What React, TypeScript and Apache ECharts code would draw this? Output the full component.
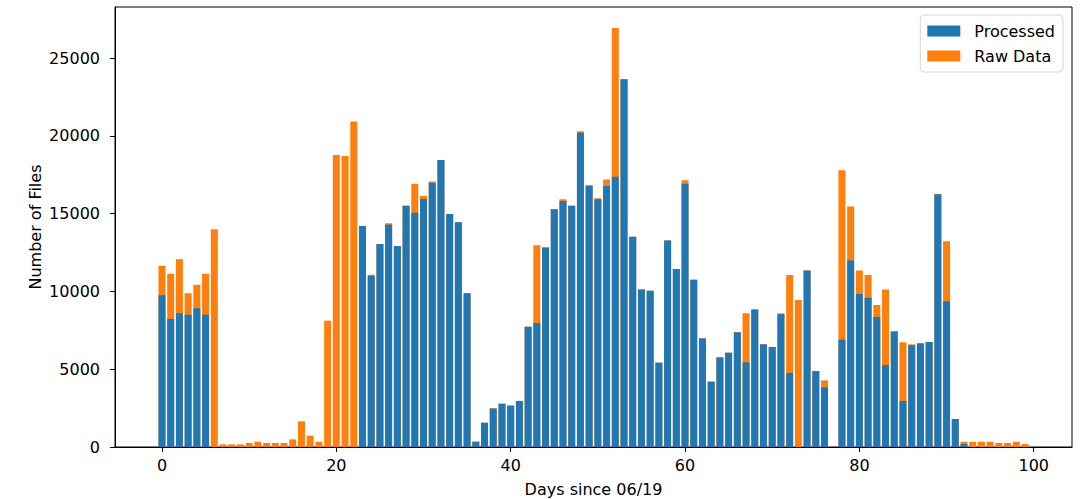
import React, { useEffect, useRef } from "react";
import * as echarts from "echarts";

const processed: number[] = [
  9750, 8230, 8590, 8500, 8910, 8500, 0, 0, 0, 0,
  0, 0, 0, 0, 0, 0, 0, 0, 0, 0,
  0, 0, 0, 14200, 11010, 13050, 14290, 12920, 15510, 15060,
  15940, 16990, 18440, 14970, 14440, 9880, 340, 1560, 2480, 2780,
  2660, 2960, 7730, 7970, 12820, 15280, 15810, 15510, 20200, 16770,
  15920, 16770, 17370, 23630, 13520, 10130, 10050, 5420, 13280, 11440,
  16920, 10750, 6980, 4200, 5760, 6060, 7370, 5440, 8830, 6600,
  6430, 8530, 4760, 0, 11350, 4880, 3830, 0, 6900, 11980,
  9830, 9600, 8350, 5270, 7430, 2960, 6530, 6660, 6750, 16240,
  9360, 1800, 190, 0, 0, 0, 0, 0, 0, 0,
];

const rawData: number[] = [
  1900, 2910, 3470, 1380, 1520, 2640, 13990, 170, 170, 170,
  260, 340, 260, 260, 260, 490, 1650, 730, 340, 8120,
  18770, 18700, 20920, 0, 60, 0, 90, 0, 0, 1860,
  190, 80, 0, 0, 0, 0, 0, 0, 0, 0,
  0, 0, 0, 4990, 0, 0, 110, 0, 90, 70,
  60, 430, 9560, 0, 0, 0, 0, 0, 0, 0,
  220, 0, 0, 0, 0, 0, 0, 3150, 0, 0,
  0, 60, 6290, 9450, 0, 0, 450, 0, 10880, 3470,
  1520, 1450, 780, 4860, 0, 3770, 70, 0, 0, 0,
  3860, 0, 150, 340, 340, 340, 260, 260, 340, 190,
];

const xTicks: number[] = [0, 20, 40, 60, 80, 100];
const yTicks: number[] = [0, 5000, 10000, 15000, 20000, 25000];

const days: number[] = processed.map((_, i) => i);
// Raw Data is stacked on top of Processed: its bar spans processed..processed+raw.
const stackedTop: number[] = processed.map((p, i) => p + rawData[i]);

export default function App() {
  const ref = useRef<HTMLDivElement>(null);

  useEffect(() => {
    if (!ref.current) return;
    const chart = echarts.init(ref.current, null, { renderer: "svg" });
    const font = "'DejaVu Sans', sans-serif";
    chart.setOption({
      animation: false,
      textStyle: { fontFamily: font },
      grid: {
        left: 115,
        top: 7,
        right: 11,
        bottom: 52,
        show: true,
        borderColor: "#000",
        borderWidth: 1,
        backgroundColor: "transparent",
        outerBoundsMode: "none",
      },
      legend: {
        orient: "vertical",
        right: 20,
        top: 15,
        padding: [8, 8, 8, 7],
        itemWidth: 33,
        itemHeight: 11,
        itemGap: 9,
        icon: "rect",
        backgroundColor: "#fff",
        borderColor: "#d6d6d6",
        borderWidth: 1,
        borderRadius: 4,
        textStyle: {
          fontFamily: font,
          fontSize: 16,
          color: "#000",
          lineHeight: 16,
          padding: [0, 0, 0, 9],
        },
        data: ["Processed", "Raw Data"],
      },
      xAxis: {
        type: "value",
        min: -5.39,
        max: 104.39,
        name: "Days since 06/19",
        nameLocation: "middle",
        nameGap: 34,
        nameMoveOverlap: false,
        nameTextStyle: { fontFamily: font, fontSize: 16, color: "#000" },
        splitLine: { show: false },
        axisLine: { show: true, onZero: false, lineStyle: { color: "#000", width: 1 } },
        axisTick: { show: true, length: 5, lineStyle: { color: "#000" }, customValues: xTicks },
        axisLabel: {
          fontFamily: font,
          fontSize: 16,
          color: "#000",
          margin: 10,
          customValues: xTicks,
          formatter: (v: number) => String(v),
        },
      },
      yAxis: {
        type: "value",
        min: 0,
        max: 28280,
        name: "Number of Files",
        nameLocation: "middle",
        nameGap: 72,
        nameMoveOverlap: false,
        nameTextStyle: { fontFamily: font, fontSize: 16, color: "#000" },
        splitLine: { show: false },
        axisLine: { show: true, onZero: false, lineStyle: { color: "#000", width: 1 } },
        axisTick: { show: true, length: 5, lineStyle: { color: "#000" }, customValues: yTicks },
        axisLabel: {
          fontFamily: font,
          fontSize: 16,
          color: "#000",
          margin: 15,
          customValues: yTicks,
          formatter: (v: number) => String(v),
        },
      },
      series: [
        {
          name: "Raw Data",
          type: "bar",
          barWidth: 7,
          barGap: "-100%",
          z: 2,
          itemStyle: { color: "#ff7f0e" },
          data: days.map((d, i) => [d, stackedTop[i]]),
        },
        {
          name: "Processed",
          type: "bar",
          barWidth: 7,
          barGap: "-100%",
          z: 3,
          itemStyle: { color: "#1f77b4" },
          data: days.map((d, i) => [d, processed[i]]),
        },
      ],
    });
    return () => chart.dispose();
  }, []);

  return (
    <div
      ref={ref}
      style={{ position: "absolute", left: 0, top: 0, width: 1083, height: 499 }}
    />
  );
}
